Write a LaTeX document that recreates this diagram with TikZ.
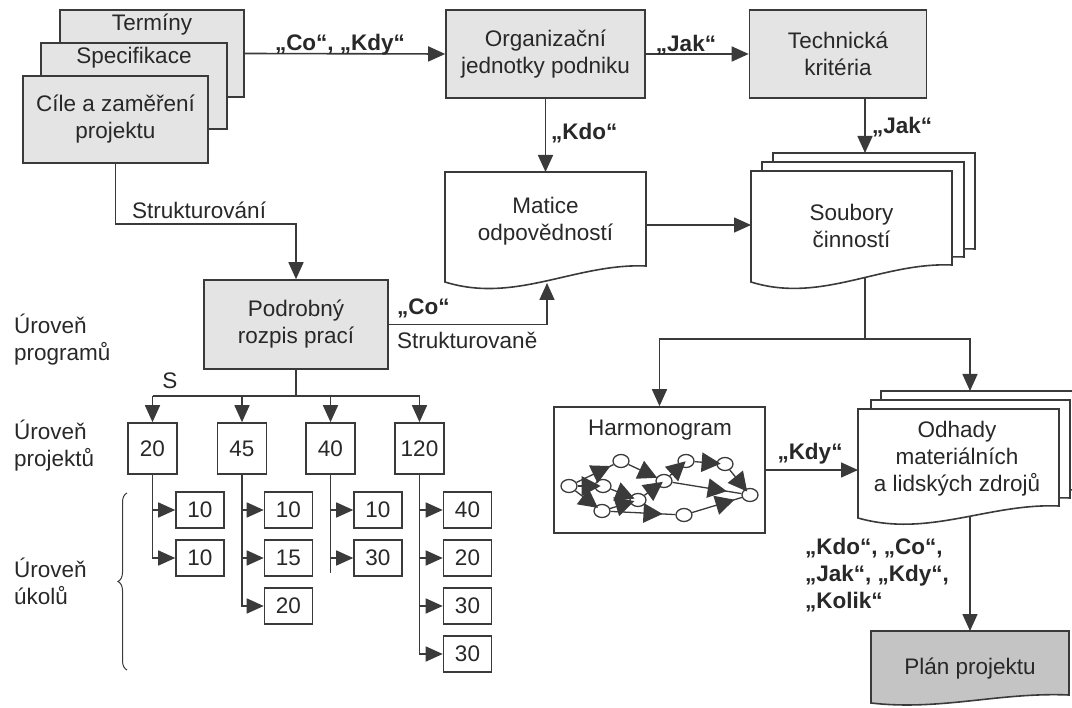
\documentclass[tikz,border=0pt]{standalone}
\usepackage{fontspec}
\setmainfont{Liberation Sans}
\usetikzlibrary{arrows.meta,shapes.geometric,decorations.pathreplacing}
\pgfdeclarelayer{background}
\pgfdeclarelayer{foreground}
\pgfsetlayers{background,main,foreground}
\definecolor{linegray}{RGB}{58,58,58}
\definecolor{boxgray}{RGB}{228,228,228}
\definecolor{plangray}{RGB}{196,196,196}
\definecolor{txtgray}{RGB}{40,40,40}
\tikzset{
  every node/.style={font=\fontsize{22.5}{27}\selectfont, text=txtgray},
  gbox/.style={draw=linegray, fill=boxgray, line width=1.6pt, inner sep=0pt, align=center},
  nbox/.style={draw=linegray, fill=white, line width=1.6pt, inner sep=0pt, align=center},
  line/.style={draw=linegray, line width=1.6pt},
  conn/.style={line, -{Triangle[length=17pt,width=15pt]}},
  lbl/.style={font=\bfseries\fontsize{22.5}{27}\selectfont, align=left},
  hnode/.style={ellipse, draw=linegray, fill=white, line width=1.3pt, minimum width=16pt, minimum height=13pt, inner sep=0pt},
  hedge/.style={draw=linegray, line width=1.3pt},
  midtri/.style={isosceles triangle, isosceles triangle apex angle=55, fill=linegray, inner sep=0pt,
    minimum width=19pt, minimum height=19pt, font=\tiny, sloped, allow upside down, pos=0.6},
}
% left, top, right, bottom left, bottom right, dip
\newcommand{\docshape}[7][]{%
  \draw[line, fill=white, #1] (#2,#3) -- (#4,#3) -- (#4,#6)
    .. controls ({#4-0.35*(#4-#2)},{#6-3}) and ({#2+0.35*(#4-#2)},{#5+#7}) .. (#2,#5) -- cycle;}

\begin{document}
\begin{tikzpicture}[x=1pt,y=-1pt]
\useasboundingbox (0,0) rectangle (1072,708);
\clip (0,0) rectangle (1072,708);

\node[gbox, minimum width=184, minimum height=87] (terminy) at (152,53.5) {};
\node (termtxt) at (152,25) {Termíny};
\node[gbox, minimum width=186, minimum height=86] (spec) at (134,86) {};
\node (spectxt) at (134,58) {Specifikace};
\node[gbox, minimum width=185, minimum height=87] (cile) at (115.5,119.5) {Cíle a zaměření\\projektu};

\node[gbox, minimum width=199, minimum height=88] (org) at (545.5,54) {Organizační\\jednotky podniku};
\node[gbox, minimum width=177, minimum height=88] (tech) at (838,54) {Technická\\kritéria};
\node[gbox, minimum width=184, minimum height=89] (podr) at (296,324.5) {Podrobný\\rozpis prací};

\docshape{445}{172}{646}{282}{266}{22}
\node[align=center] (mattxt) at (545.5,221) {Matice\\odpovědností};

\docshape{773}{153}{975}{266}{249}{22}
\docshape{762}{162}{964}{274}{257}{22}
\docshape{751}{171}{952}{282}{265}{22}
\node[align=center] (soubtxt) at (851.5,226) {Soubory\\činností};

\node[nbox, minimum width=211, minimum height=126] (harm) at (659.5,470) {};
\node (harmtxt) at (660,430) {Harmonogram};
\foreach \n/\x/\y in {h1/569/486, h2/621/461, h3/603/486, h4/602/511, h5/638/500,
  h6/664/481, h7/686/461, h8/725/464, h9/750/495, h10/684/515}
  \node[hnode] (\n) at (\x,\y) {};
\foreach \a/\b in {h1/h2, h1/h3, h1/h4, h2/h6, h3/h5, h4/h5, h5/h6, h6/h7,
  h7/h8, h8/h9, h6/h9, h4/h10, h10/h9}
  \draw[hedge] (\a) -- node[midtri] {} (\b);

\docshape{881}{391}{1081}{507}{490}{20}
\docshape{871}{400}{1070}{515}{498}{20}
\docshape{858}{409}{1059}{518}{506}{20}
\node[align=center] (odhtxt) at (957,459) {Odhady\\materiálních\\a lidských zdrojů};

\docshape[fill=plangray]{871}{631}{1069}{703}{695}{8}
\node (plantxt) at (970,669) {Plán projektu};

\foreach \n/\x/\v in {p1/152.5/20, p2/242/45, p3/330.5/40, p4/419.5/120}
  \node[nbox, minimum width=49, minimum height=51] (\n) at (\x,448.5) {\v};
\foreach \n/\x/\y/\v in {c11/200/510/10, c12/200/558/10, c21/288.5/510/10,
  c22/288.5/558/15, c23/288.5/606/20, c31/378/510/10, c32/378/558/30,
  c41/467.5/510/40, c42/467.5/558/20, c43/467.5/606/30, c44/467.5/654/30}
  \node[nbox, minimum width=48, minimum height=36] (\n) at (\x,\y) {\v};

\node[anchor=west, align=left, inner sep=0pt] (lvlprog) at (14,340) {Úroveň\\programů};
\node[anchor=west, align=left, inner sep=0pt] (lvlproj) at (14,446) {Úroveň\\projektů};
\node[anchor=west, align=left, inner sep=0pt] (lvlukol) at (14,581) {Úroveň\\úkolů};
\draw[draw=linegray, line width=1pt, decorate, decoration={brace, amplitude=9pt}] (127,670) -- (127,493);

\coordinate (matN) at (545.5,172);
\coordinate (matE) at (646,225);
\coordinate (matB) at (547,283);
\coordinate (soubN) at (865,153);
\coordinate (soubW) at (751,225);
\coordinate (soubB) at (865,270);
\coordinate (split) at (865,339);
\coordinate (odhN) at (970,391);
\coordinate (odhW) at (858,470);
\coordinate (odhB) at (970,505);
\coordinate (planN) at (970,631);
\coordinate (strukt) at (200,224);
\coordinate (tsplit) at (296,396);

\begin{pgfonlayer}{background}
\draw[conn] (terminy.east) -- (org.west);
\draw[conn] (org.east) -- (tech.west);
\draw[conn] (org.south) -- (matN);
\draw[conn] (tech.south -| soubN) -- (soubN);
\draw[conn] (cile.south) |- (strukt) -| (podr.north);
\draw[conn] (podr.east) -| (matB);
\draw[conn] (matE) -- (soubW);
\draw[line] (soubB) -- (split);
\draw[conn] (split) -| (harm.north);
\draw[conn] (split) -| (odhN);
\draw[conn] (harm.east) -- (odhW);
\draw[conn] (odhB) -- (planN);
\draw[line] (podr.south) -- (tsplit);
\draw[line] (p1.north |- tsplit) -- (p4.north |- tsplit);
\foreach \p in {p1,p2,p3,p4}
  \draw[conn] (\p.north |- tsplit) -- (\p.north);
\draw[conn] (p1.south) |- (c12.west);
\draw[conn] (p1.south |- c11.west) -- (c11.west);
\draw[conn] (p2.south) |- (c23.west);
\foreach \c in {c21,c22}
  \draw[conn] (p2.south |- \c.west) -- (\c.west);
\draw[line] (p3.south) -- ++(0,98);
\foreach \c in {c31,c32}
  \draw[conn] (p3.south |- \c.west) -- (\c.west);
\draw[conn] (p4.south) |- (c44.west);
\foreach \c in {c41,c42,c43}
  \draw[conn] (p4.south |- \c.west) -- (\c.west);
\end{pgfonlayer}

\node[lbl] (cokdy) at (340,45) {„Co“, „Kdy“};
\node[lbl] (jaktop) at (686,45) {„Jak“};
\node[lbl, anchor=west, inner sep=0pt] (kdo) at (551,133) {„Kdo“};
\node[lbl, anchor=west, inner sep=0pt] (jakright) at (872,127) {„Jak“};
\node[anchor=west, inner sep=0pt] (struktlbl) at (132,210) {Strukturování};
\node[lbl, anchor=west, inner sep=0pt] (co) at (397,308) {„Co“};
\node[anchor=west, inner sep=0pt] (strukt2) at (397,340) {Strukturovaně};
\node (slbl) at (170,381) {S};
\node[lbl] (kdy) at (810,454) {„Kdy“};
\node[lbl, anchor=west, inner sep=0pt] (final) at (805,575) {„Kdo“, „Co“,\\„Jak“, „Kdy“,\\„Kolik“};
\end{tikzpicture}
\end{document}
